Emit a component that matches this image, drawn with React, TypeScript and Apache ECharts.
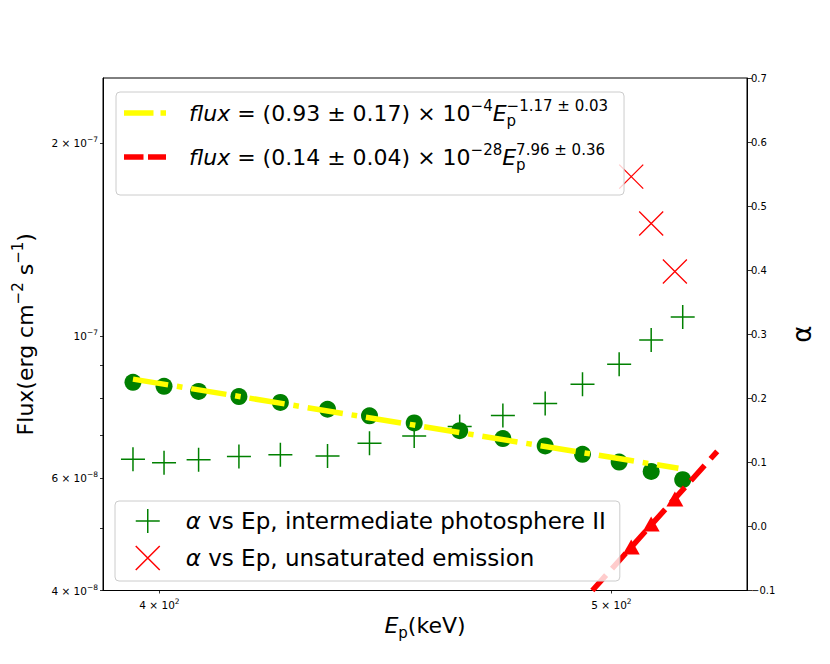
import React, { useEffect, useRef } from "react";
import * as echarts from "echarts";

const FONT = "DejaVu Sans";

// Intermediate photosphere II: Ep (keV), flux (left axis), alpha (right axis)
const epIP = [394.8, 400.9, 407.8, 416.0, 424.6, 434.6, 443.7, 453.6, 463.9, 473.9, 483.9, 492.9, 501.9, 509.9, 517.9];
const fluxIP = [8.46e-8, 8.34e-8, 8.19e-8, 8.04e-8, 7.87e-8, 7.68e-8, 7.5e-8, 7.31e-8, 7.11e-8, 6.91e-8, 6.73e-8, 6.53e-8, 6.35e-8, 6.14e-8, 5.96e-8];
const alphaIP = [0.105, 0.0995, 0.104, 0.109, 0.112, 0.11, 0.13, 0.141, 0.156, 0.173, 0.192, 0.222, 0.253, 0.291, 0.327];

// Unsaturated emission
const epUE = [504.9, 509.9, 515.9];
const fluxUE = [4.68e-8, 5.08e-8, 5.56e-8];
const alphaUE = [0.546, 0.473, 0.398];

// Fitted power laws (end points)
const fit1Ep = [394.8, 516.8];
const fit1Flux = [8.56e-8, 6.21e-8];
const fit2Ep = [495.3, 526.8];
const fit2Flux = [4.0e-8, 6.6e-8];

// Ticks
const xTickValues = [400, 500];
const xTickLabels = ["4 × 10{s|2}", "5 × 10{s|2}"];
const yTickValues = [4e-8, 6e-8, 1e-7, 2e-7];
const yTickLabels = ["4 × 10{s|−8}", "6 × 10{s|−8}", "10{s|−7}", "2 × 10{s|−7}"];
const yMinorTickValues = [5e-8, 7e-8, 8e-8, 9e-8];
const alphaMin = -0.1;
const alphaMax = 0.7;
const alphaStep = 0.1;

const FIT1 = "fit1";
const FIT2 = "fit2";
const IP_NAME = "alpha vs Ep, intermediate photosphere II";
const UE_NAME = "alpha vs Ep, unsaturated emission";

const legendTexts: Record<string, string> = {
  [FIT1]: "{gap| }{it|flux} = (0.93 ± 0.17) × 10{sup|−4}{it|E}{sub|p}{sup|−1.17 ± 0.03}",
  [FIT2]: "{gap| }{it|flux} = (0.14 ± 0.04) × 10{sup|−28}{it|E}{sub|p}{sup|7.96 ± 0.36}",
  [IP_NAME]: "{gap| }{it|α} vs Ep, intermediate photosphere II",
  [UE_NAME]: "{gap| }{it|α} vs Ep, unsaturated emission",
};

// legend handles: dash-dot and dashed line segments
const DASHDOT_ICON = "path://M0,0H29.5V5.5H0Z M36.5,0H42V5.5H36.5Z";
const DASHED_ICON = "path://M0,0H19.5V5.5H0Z M24,0H42V5.5H24Z";
const PLUS = "path://M0,-1L0,1M-1,0L1,0";
const CROSS = "path://M-1,-1L1,1M-1,1L1,-1";

function pick(values: number[], labels: string[], v: number): string {
  for (let i = 0; i < values.length; i++) {
    if (Math.abs(v - values[i]) / values[i] < 1e-4) return labels[i];
  }
  return "";
}

export default function App() {
  const ref = useRef<HTMLDivElement>(null);
  useEffect(() => {
    if (!ref.current) return;
    const chart = echarts.init(ref.current, undefined, { renderer: "svg" });
    const tickRich = {
      s: { fontFamily: FONT, fontSize: 7.5, lineHeight: 9, verticalAlign: "top", color: "#000" },
    };
    const option: any = {
      animation: false,
      textStyle: { fontFamily: FONT },
      grid: {
        left: 103,
        right: 83,
        top: 78,
        bottom: 73.5,
        show: true,
        borderColor: "#000",
        borderWidth: 1,
        backgroundColor: "rgba(0,0,0,0)",
      },
      xAxis: {
        type: "log",
        logBase: 10,
        min: 389.0,
        max: 534.6,
        axisLine: { show: true, onZero: false, lineStyle: { color: "#000", width: 1 } },
        axisTick: { show: true, length: 3, lineStyle: { color: "#000", width: 0.8 }, customValues: xTickValues },
        axisLabel: {
          show: true,
          customValues: xTickValues,
          formatter: (v: number) => pick(xTickValues, xTickLabels, v),
          color: "#000",
          fontFamily: FONT,
          fontSize: 10.5,
          lineHeight: 15,
          margin: 7,
          rich: tickRich,
        },
        splitLine: { show: false },
        name: "{it|E}{sub|p}(keV)",
        nameLocation: "middle",
        nameMoveOverlap: false,
        nameGap: 20,
        nameTextStyle: {
          fontFamily: FONT,
          fontSize: 22,
          color: "#000",
          lineHeight: 30,
          rich: {
            it: { fontFamily: FONT, fontSize: 22, fontStyle: "italic", lineHeight: 30, color: "#000" },
            sub: { fontFamily: FONT, fontSize: 15, lineHeight: 7.4, verticalAlign: "bottom", color: "#000" },
          },
        },
      },
      yAxis: [
        {
          type: "log",
          logBase: 10,
          min: 4e-8,
          max: 2.53e-7,
          position: "left",
          axisLine: { show: true, onZero: false, lineStyle: { color: "#000", width: 1 } },
          axisTick: {
            show: true,
            length: 3,
            lineStyle: { color: "#000", width: 0.8 },
            customValues: [...yTickValues, ...yMinorTickValues],
          },
          axisLabel: {
            show: true,
            customValues: yTickValues,
            formatter: (v: number) => pick(yTickValues, yTickLabels, v),
            color: "#000",
            fontFamily: FONT,
            fontSize: 10.5,
            lineHeight: 15,
            margin: 5,
            rich: tickRich,
          },
          splitLine: { show: false },
          name: "Flux(erg cm{sup|−2} s{sup|−1})",
          nameLocation: "middle",
          nameRotate: 90,
          nameGap: 58,
          nameTextStyle: {
            fontFamily: FONT,
            fontSize: 22,
            color: "#000",
            lineHeight: 30,
            rich: {
              sup: { fontFamily: FONT, fontSize: 15, lineHeight: 18, verticalAlign: "top", color: "#000" },
            },
          },
        },
        {
          type: "value",
          min: alphaMin,
          max: alphaMax,
          interval: alphaStep,
          position: "right",
          axisLine: { show: true, onZero: false, lineStyle: { color: "#000", width: 1 } },
          axisTick: { show: true, length: 5, lineStyle: { color: "#000", width: 0.8 } },
          axisLabel: {
            show: true,
            color: "#000",
            fontFamily: FONT,
            fontSize: 10,
            margin: 4,
            formatter: (v: number) => v.toFixed(1).replace("-", "−"),
          },
          splitLine: { show: false },
          name: "α",
          nameLocation: "middle",
          nameRotate: 90,
          nameGap: 42,
          nameTextStyle: { fontFamily: FONT, fontSize: 26, color: "#000" },
        },
      ],
      legend: [
        {
          data: [
            { name: FIT1, icon: DASHDOT_ICON },
            { name: FIT2, icon: DASHED_ICON },
          ],
          orient: "vertical",
          left: 116,
          top: 92,
          itemWidth: 42,
          itemHeight: 14,
          itemGap: 14,
          padding: [6, 16, 23, 8],
          backgroundColor: "rgba(255,255,255,0.8)",
          borderColor: "#cccccc",
          borderWidth: 1,
          borderRadius: 4,
          selectedMode: false,
          formatter: (n: string) => legendTexts[n],
          textStyle: {
            fontFamily: FONT,
            fontSize: 22,
            color: "#000",
            lineHeight: 30,
            rich: {
              gap: { width: 18, fontSize: 22, lineHeight: 30 },
              it: { fontFamily: FONT, fontSize: 22, fontStyle: "italic", lineHeight: 30, color: "#000" },
              sup: { fontFamily: FONT, fontSize: 15, lineHeight: 14, verticalAlign: "top", color: "#000" },
              sub: { fontFamily: FONT, fontSize: 15, lineHeight: 3.4, verticalAlign: "bottom", width: 0, color: "#000" },
            },
          },
        },
        {
          data: [IP_NAME, UE_NAME],
          orient: "vertical",
          left: 115,
          top: 501,
          itemWidth: 42,
          itemHeight: 24,
          itemGap: 11,
          padding: [7, 14, 10, 20],
          backgroundColor: "rgba(255,255,255,0.8)",
          borderColor: "#cccccc",
          borderWidth: 1,
          borderRadius: 4,
          selectedMode: false,
          itemStyle: { borderWidth: 1.5 },
          formatter: (n: string) => legendTexts[n],
          textStyle: {
            fontFamily: FONT,
            fontSize: 23,
            color: "#000",
            lineHeight: 26,
            rich: {
              gap: { width: 12, fontSize: 23, lineHeight: 26 },
              it: { fontFamily: FONT, fontSize: 23, fontStyle: "italic", lineHeight: 26, color: "#000" },
            },
          },
        },
      ],
      series: [
        {
          name: "flux, intermediate photosphere II",
          type: "scatter",
          xAxisIndex: 0,
          yAxisIndex: 0,
          data: epIP.map((x, i) => [x, fluxIP[i]]),
          symbol: "circle",
          symbolSize: 17,
          itemStyle: { color: "#008000", opacity: 1 },
          silent: true,
        },
        {
          name: IP_NAME,
          type: "scatter",
          xAxisIndex: 0,
          yAxisIndex: 1,
          data: epIP.map((x, i) => [x, alphaIP[i]]),
          symbol: PLUS,
          symbolSize: 24,
          itemStyle: { color: "rgba(0,0,0,0)", borderColor: "#008000", borderWidth: 1.5, opacity: 1 },
          silent: true,
        },
        {
          name: UE_NAME,
          type: "scatter",
          xAxisIndex: 0,
          yAxisIndex: 1,
          data: epUE.map((x, i) => [x, alphaUE[i]]),
          symbol: CROSS,
          symbolSize: 24,
          itemStyle: { color: "rgba(0,0,0,0)", borderColor: "#ff0000", borderWidth: 1.3, opacity: 1 },
          silent: true,
        },
        {
          name: "flux, unsaturated emission",
          type: "scatter",
          xAxisIndex: 0,
          yAxisIndex: 0,
          data: epUE.map((x, i) => [x, fluxUE[i]]),
          symbol: "triangle",
          symbolSize: [17, 15],
          itemStyle: { color: "#ff0000", opacity: 1 },
          silent: true,
        },
        {
          name: FIT1,
          type: "line",
          xAxisIndex: 0,
          yAxisIndex: 0,
          data: fit1Ep.map((x, i) => [x, fit1Flux[i]]),
          symbol: "none",
          showSymbol: false,
          lineStyle: { color: "#ffff00", width: 5.5, type: [35.6, 8.9, 5.6, 8.9] },
          itemStyle: { color: "#ffff00" },
          silent: true,
        },
        {
          name: FIT2,
          type: "line",
          xAxisIndex: 0,
          yAxisIndex: 0,
          data: fit2Ep.map((x, i) => [x, fit2Flux[i]]),
          symbol: "none",
          showSymbol: false,
          lineStyle: { color: "#ff0000", width: 5.5, type: [20.6, 8.9] },
          itemStyle: { color: "#ff0000" },
          silent: true,
        },
      ],
    };
    chart.setOption(option);
    return () => chart.dispose();
  }, []);
  return (
    <div
      ref={ref}
      style={{ position: "fixed", left: 0, top: 0, width: 830, height: 664, background: "#fff" }}
    />
  );
}
